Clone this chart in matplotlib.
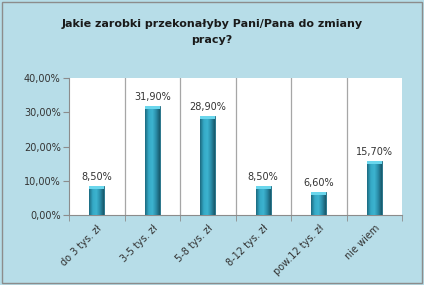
import numpy as np
import matplotlib.pyplot as plt
from matplotlib.patches import Rectangle
from matplotlib.colors import LinearSegmentedColormap
from matplotlib.ticker import FuncFormatter

categories = ["do 3 tys. zł", "3-5 tys. zł", "5-8 tys. zł", "8-12 tys. zł", "pow.12 tys. zł", "nie wiem"]
values = [8.5, 31.9, 28.9, 8.5, 6.6, 15.7]
y_ticks = [0, 10, 20, 30, 40]

bg = '#B7DDE8'
txt = '#333333'

fig = plt.figure(figsize=(4.24, 2.85), dpi=100, facecolor=bg)
# ramka wokół całego wykresu
fig.patches.append(Rectangle((0.004, 0.006), 0.991, 0.988, transform=fig.transFigure,
                             fill=False, edgecolor='#8C8C8C', linewidth=1))
ax = fig.add_axes([69 / 424, 1 - 215 / 285, (402 - 69) / 424, (215 - 78) / 285])
ax.set_facecolor('white')

x = np.arange(len(categories))
w = 0.27
bars = ax.bar(x, values, width=w, color='#2C92B0', edgecolor='#1C6A80', linewidth=0.6, zorder=3)

# gradient na słupkach
cmap = LinearSegmentedColormap.from_list('bar', ['#1C6A80', '#35A9C6', '#3DB4D0', '#2A8CA8', '#17596B'])
grad = np.linspace(0, 1, 64).reshape(1, -1)
for b, v in zip(bars, values):
    im = ax.imshow(grad, cmap=cmap, aspect='auto', zorder=3.5,
                   extent=[b.get_x(), b.get_x() + b.get_width(), 0, v])
    im.set_clip_path(b)
    cap = Rectangle((b.get_x(), v - 0.9), b.get_width(), 0.9, facecolor='#6AD6EC',
                    edgecolor='none', zorder=4)
    ax.add_patch(cap)
    ax.text(b.get_x() + b.get_width() / 2, v + 1.2, ('%.2f%%' % v).replace('.', ','),
            ha='center', va='bottom', fontsize=7, color=txt, zorder=5)

ax.set_xlim(-0.5, len(categories) - 0.5)
ax.set_ylim(0, 40)
ax.set_yticks(y_ticks)
ax.yaxis.set_major_formatter(FuncFormatter(lambda v, p: ('%.2f%%' % v).replace('.', ',')))

# linie podziału kategorii
bounds = np.arange(len(categories) + 1) - 0.5
for bx in bounds[1:-1]:
    ax.axvline(bx, color='#A6A6A6', linewidth=0.9, zorder=1)
ax.set_xticks(bounds, minor=True)
ax.set_xticks(x)
ax.set_xticklabels(categories, rotation=45, ha='right', rotation_mode='anchor',
                   fontsize=7, color=txt)
ax.tick_params(axis='x', which='major', length=0, pad=6)
ax.tick_params(axis='x', which='minor', length=4, color='#8C8C8C', direction='out')
ax.tick_params(axis='y', length=4, color='#8C8C8C', labelsize=7, labelcolor=txt, pad=2)

for s in ['top', 'right']:
    ax.spines[s].set_visible(False)
ax.spines['left'].set_color('#8C8C8C')
ax.spines['bottom'].set_color('#8C8C8C')

fig.text(0.5, 1 - 32 / 285, 'Jakie zarobki przekonałyby Pani/Pana do zmiany\npracy?',
         ha='center', va='center', fontsize=8, fontweight='bold', color='#1A1A1A', linespacing=1.75)

plt.savefig('out.png', dpi=100, facecolor=bg)
